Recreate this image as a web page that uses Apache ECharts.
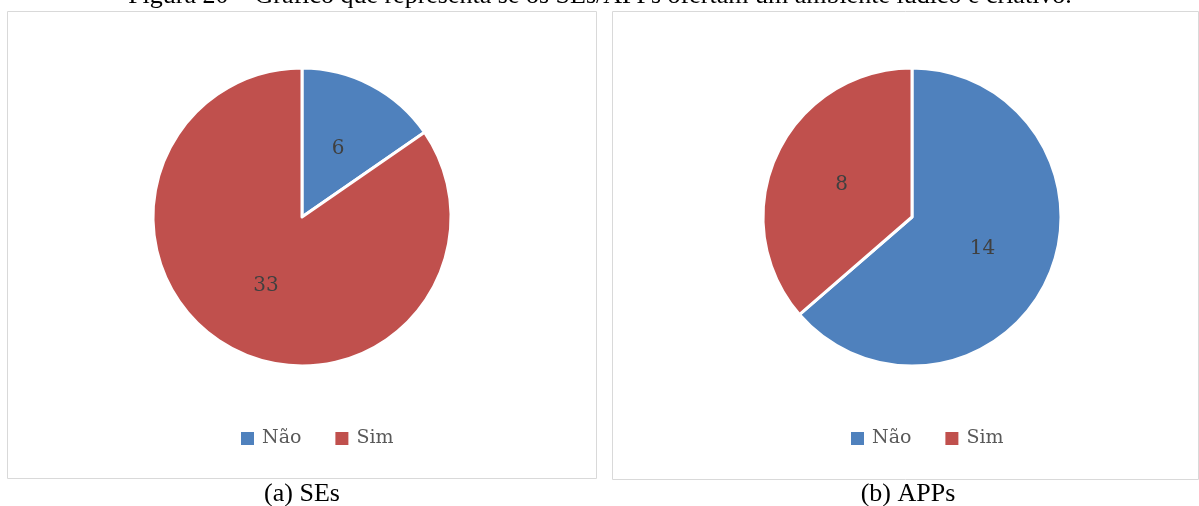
<!DOCTYPE html>
<html>
<head>
<meta charset="utf-8">
<script src="https://cdn.jsdelivr.net/npm/echarts@6/dist/echarts.min.js"></script>
<style>
  html, body { margin: 0; padding: 0; background: #ffffff; }
  #chart { width: 1199px; height: 506px; }
</style>
</head>
<body>
<div id="chart"></div>
<script>
// Respostas: o SE/APP oferta um ambiente lúdico e criativo?
const categories = ['Não', 'Sim'];
const sesValues = [6, 33];
const appsValues = [14, 8];
const figureTitle = 'Figura 20 – Gráfico que representa se os SEs/APPs ofertam um ambiente lúdico e criativo.';
const captions = ['(a) SEs', '(b) APPs'];

const colors = ['#4F81BD', '#C0504D'];
const serif = 'DejaVu Serif';
const times = 'Liberation Serif';

const chart = echarts.init(document.getElementById('chart'), null, { renderer: 'canvas' });

function pieSeries(values, center) {
  return {
    type: 'pie',
    center: center,
    radius: 149,
    startAngle: 90,
    clockwise: true,
    animation: false,
    silent: true,
    itemStyle: { borderColor: '#ffffff', borderWidth: 3 },
    label: {
      show: true,
      position: 'inside',
      formatter: '{c}',
      fontFamily: serif,
      fontSize: 20,
      color: '#404040'
    },
    labelLine: { show: false },
    data: categories.map((name, i) => ({ name: name, value: values[i] }))
  };
}

function legendAt(left) {
  return {
    data: categories,
    left: left,
    top: 424,
    itemWidth: 15,
    itemHeight: 15,
    itemGap: 32,
    icon: 'rect',
    selectedMode: false,
    textStyle: { fontFamily: serif, fontSize: 19, color: '#595959', padding: [0, 0, 0, 2] }
  };
}

chart.setOption({
  color: colors,
  animation: false,
  legend: [legendAt(234), legendAt(844)],
  graphic: [
    { type: 'rect', shape: { x: 7.5, y: 11.5, width: 589, height: 467 },
      style: { fill: 'none', stroke: '#d9d9d9', lineWidth: 1 }, silent: true },
    { type: 'rect', shape: { x: 612.5, y: 11.5, width: 586, height: 468 },
      style: { fill: 'none', stroke: '#d9d9d9', lineWidth: 1 }, silent: true },
    { type: 'text', x: 600, y: 9,
      style: { text: figureTitle, fontFamily: times, fontSize: 26, fill: '#000000',
               textAlign: 'center', textVerticalAlign: 'bottom' }, silent: true },
    { type: 'text', x: 302, y: 494,
      style: { text: captions[0], fontFamily: times, fontSize: 26, fill: '#000000',
               textAlign: 'center', textVerticalAlign: 'middle' }, silent: true },
    { type: 'text', x: 908, y: 494,
      style: { text: captions[1], fontFamily: times, fontSize: 26, fill: '#000000',
               textAlign: 'center', textVerticalAlign: 'middle' }, silent: true }
  ],
  series: [
    pieSeries(sesValues, [302, 217]),
    pieSeries(appsValues, [912, 217])
  ]
});
</script>
</body>
</html>
